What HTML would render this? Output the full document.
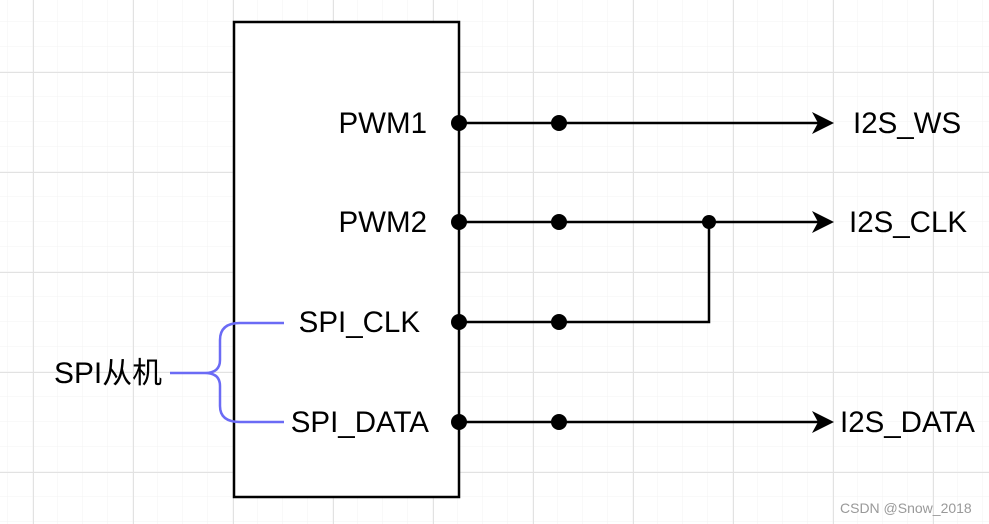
<!DOCTYPE html>
<html><head><meta charset="utf-8"><style>
html,body{margin:0;padding:0;background:#fff;}
svg{display:block;}
text{font-family:"Liberation Sans","Noto Sans CJK SC",sans-serif;font-size:29.5px;fill:#000;}
</style></head><body>
<svg width="989" height="524" viewBox="0 0 989 524">
<defs>
<pattern id="minor" x="8" y="22" width="25" height="25" patternUnits="userSpaceOnUse">
<path d="M25 0V25M0 25H25" fill="none" stroke="#f3f3f3" stroke-width="1"/>
</pattern>
<pattern id="major" x="33" y="72" width="100" height="100" patternUnits="userSpaceOnUse">
<path d="M0.5 0V100M0 0.5H100" fill="none" stroke="#e2e2e2" stroke-width="1"/>
</pattern>
</defs>
<rect width="989" height="524" fill="url(#minor)"/>
<rect width="989" height="524" fill="url(#major)"/>
<rect x="234" y="22" width="225" height="475" fill="#fff" stroke="#000" stroke-width="2.5"/>
<g stroke="#000" stroke-width="2.5" fill="none">
<path d="M459 123H820"/>
<path d="M459 222H820"/>
<path d="M459 322H709V222"/>
<path d="M459 422H820"/>
</g>
<g fill="#000">
<path d="M834 123l-22 -11 6 11 -6 11z"/>
<path d="M834 222l-22 -11 6 11 -6 11z"/>
<path d="M834 422l-22 -11 6 11 -6 11z"/>
<circle cx="459" cy="123" r="8"/><circle cx="559" cy="123" r="8"/>
<circle cx="459" cy="222" r="8"/><circle cx="559" cy="222" r="8"/>
<circle cx="709" cy="222" r="7"/>
<circle cx="459" cy="322" r="8"/><circle cx="559" cy="322" r="8"/>
<circle cx="459" cy="422" r="8"/><circle cx="559" cy="422" r="8"/>
</g>
<path d="M170 373H205Q220 373 220 360V340Q220 323 240 323H284M205 373Q220 373 220 386V406Q220 422 240 422H284" fill="none" stroke="#6b6bf5" stroke-width="2.5"/>
<text x="427" y="133" text-anchor="end">PWM1</text>
<text x="427" y="232" text-anchor="end">PWM2</text>
<text x="420" y="332" text-anchor="end">SPI_CLK</text>
<text x="429" y="432" text-anchor="end">SPI_DATA</text>
<text x="54" y="383" textLength="108" lengthAdjust="spacingAndGlyphs">SPI从机</text>
<text x="853" y="133">I2S_WS</text>
<text x="849" y="232">I2S_CLK</text>
<text x="840" y="432">I2S_DATA</text>
<text x="840" y="513" style="font-size:14px;fill:#999">CSDN @Snow_2018</text>
</svg>
</body></html>
